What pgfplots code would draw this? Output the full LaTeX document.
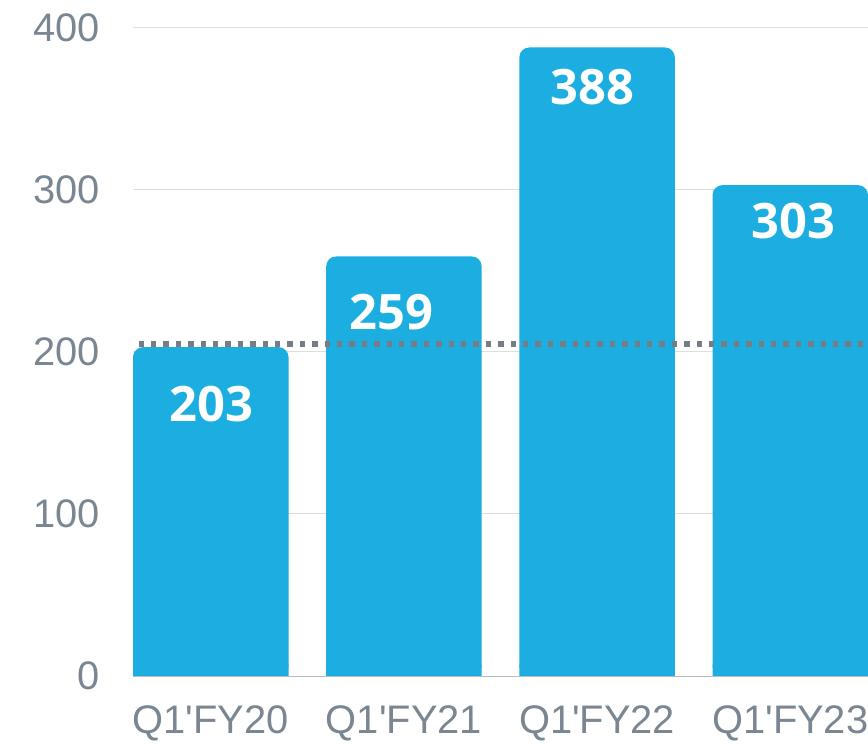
\documentclass[border=0pt]{standalone}
\usepackage{fontspec}
\setmainfont{Liberation Sans}
\newfontfamily\osfont{Open Sans}
\usepackage{pgfplots}
\pgfplotsset{compat=1.18}
\usepackage{pgfplotstable}
\definecolor{barblue}{HTML}{1CAEE0}
\definecolor{tickgray}{HTML}{7A8692}
\definecolor{dotgray}{HTML}{767D84}
\definecolor{gridgray}{HTML}{DCDEE0}
\definecolor{axisgray}{HTML}{B4BCC5}
\pgfplotstableread{
x y lx ly
0 203 0.7 -57.3
1 259 -12.8 -55.6
2 388 -5 -39.5
3 303 3.3 -36
}\bardata
\begin{document}
\begin{tikzpicture}
\path[use as bounding box] (0,0) rectangle (868bp,744bp);
\begin{axis}[
  at={(133bp,68bp)}, anchor=south west,
  scale only axis, width=735bp, height=648bp,
  xmin=-0.4025, xmax=3.4025, ymin=0, ymax=400,
  xtick={0,1,2,3},
  xticklabels={Q1\textquotesingle FY20, Q1\textquotesingle FY21, Q1\textquotesingle FY22, Q1\textquotesingle FY23},
  ytick={0,100,200,300,400},
  ymajorgrids, major grid style={gridgray, line width=1bp},
  axis lines*=left,
  y axis line style={draw=none},
  x axis line style={axisgray, line width=1bp, -},
  major tick length=0pt,
  tick label style={font=\fontsize{40}{40}\selectfont, text=tickgray, inner sep=0pt},
  yticklabel style={anchor=east, xshift=-33bp},
  xticklabel style={anchor=base, yshift=-57bp},
  /pgf/number format/assume math mode=true,
]
\addplot[ybar, bar width=0.805, bar shift=0pt, fill=barblue, draw=none, rounded corners=10bp,
  visualization depends on=\thisrow{lx}\as\lblx,
  visualization depends on=\thisrow{ly}\as\lbly,
  nodes near coords={\pgfmathprintnumber[assume math mode=true]{\pgfplotspointmeta}},
  every node near coord/.append style={font=\osfont\bfseries\fontsize{49}{49}\selectfont, text=white, anchor=center, inner sep=0pt, xshift=\lblx bp, yshift=\lbly bp},
] table[x=x, y=y] {\bardata};
\addplot[ybar, bar width=0.805, bar shift=0pt, fill=barblue, draw=none]
  coordinates {(0,7) (1,7) (2,7) (3,7)};
\addplot[dotgray, line width=5.5bp, dash pattern=on 5.5bp off 6.9bp, dash phase=6.9bp]
  coordinates {(-0.4025,205) (3.4025,205)};
\end{axis}
\end{tikzpicture}
\end{document}
